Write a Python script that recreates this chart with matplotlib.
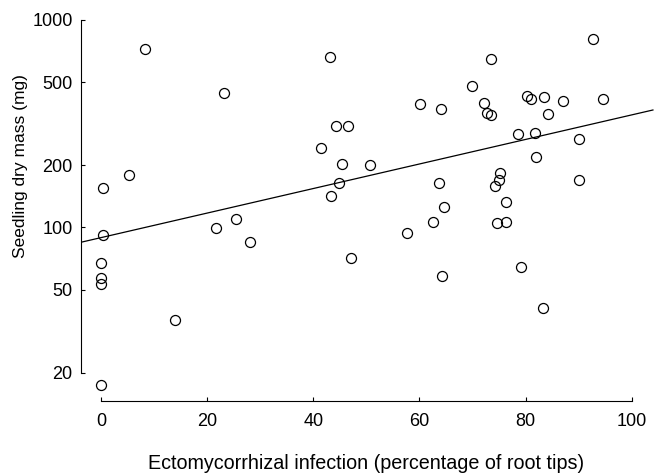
import numpy as np
import matplotlib
matplotlib.use("Agg")
import matplotlib.pyplot as plt
from matplotlib.ticker import FixedLocator, FixedFormatter, NullLocator

plt.rcParams['font.family'] = ['Liberation Sans', 'DejaVu Sans']

# === data ===
infection = [0.4, 8.2, 5.3, 23.2, 43.2, 60.2, 64.0, 70.0, 44.3, 46.5,
             41.5, 45.4, 50.7, 44.8, 43.4, 63.6, 64.6, 92.7, 73.4, 80.3,
             81.0, 83.5, 87.0, 94.6, 72.2, 72.7, 73.4, 84.2, 78.6, 81.8,
             90.0, 82.0, 75.2, 74.9, 74.2, 90.0, 76.3, 0.3, 0.06, 0.0,
             0.0, 13.9, 0.0, 21.6, 25.4, 28.1, 47.2, 57.6, 62.6, 64.3,
             74.7, 76.4, 79.1, 83.3]
dry_mass = [154.5, 724, 178.5, 446, 663, 394, 374, 481, 309, 308,
            242, 203, 199, 164, 142, 163, 126, 810, 651, 430,
            418, 426, 408, 416, 397, 357, 347, 354, 282, 285,
            268, 219, 182.5, 170, 158.5, 169, 133, 92, 67.4, 57.3,
            53.4, 35.9, 17.4, 99.8, 110, 85.4, 71.5, 94.4, 106, 58.6,
            105.5, 106.6, 64.5, 41.1]

# fitted line (end points)
fit_x = [-3.77, 104.0]
fit_y = [84.9, 368.4]

x_ticks = [0, 20, 40, 60, 80, 100]
y_ticks = [20, 50, 100, 200, 500, 1000]

fig = plt.figure(figsize=(6.66, 4.75), dpi=100)
ax = fig.add_axes([81 / 666, 74 / 475, (660 - 81) / 666, (401 - 20) / 475])

ax.plot(fit_x, fit_y, color="black", linewidth=0.9)
ax.plot(infection, dry_mass, linestyle="none", marker="o", markersize=7.2,
        markerfacecolor="none", markeredgecolor="black", markeredgewidth=0.9)

ax.set_yscale("log")
ax.set_xlim(-3.77, -3.77 + (660 - 81) / 5.307)
ax.set_ylim(10 ** (3 - 381 / 207.5), 1000)

ax.xaxis.set_major_locator(FixedLocator(x_ticks))
ax.yaxis.set_major_locator(FixedLocator(y_ticks))
ax.yaxis.set_major_formatter(FixedFormatter([str(v) for v in y_ticks]))
ax.yaxis.set_minor_locator(NullLocator())

for side in ["top", "right"]:
    ax.spines[side].set_visible(False)
ax.spines["left"].set_bounds(20, 1000)
ax.spines["bottom"].set_bounds(0, 100)
for side in ["left", "bottom"]:
    ax.spines[side].set_linewidth(0.8)

ax.tick_params(direction="in", length=3, width=0.8, labelsize=13)
ax.tick_params(axis="y", pad=6)
ax.tick_params(axis="x", pad=9)

ax.set_xlabel("Ectomycorrhizal infection (percentage of root tips)", fontsize=14.2)
ax.set_ylabel("Seedling dry mass (mg)", fontsize=12.5)
ax.xaxis.set_label_coords(0.492, -0.139)
ax.yaxis.set_label_coords(-0.0909, 0.6155)

fig.savefig("out.png", dpi=100)
